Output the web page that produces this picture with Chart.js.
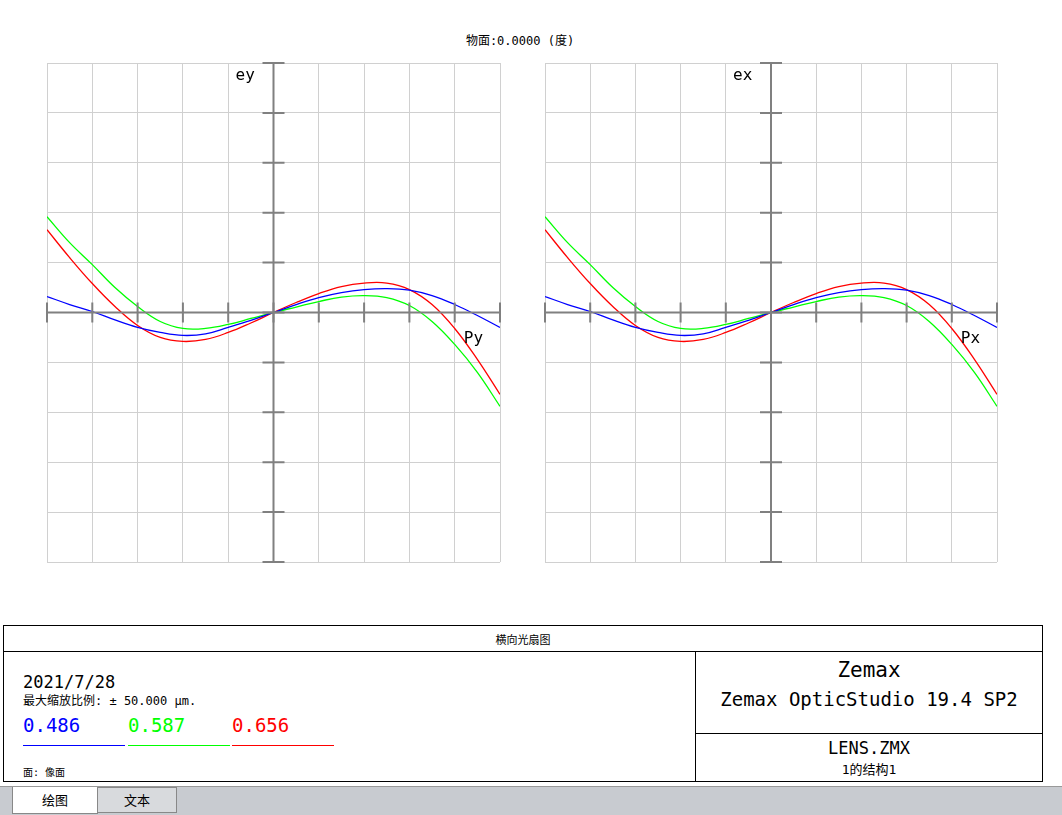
<!DOCTYPE html>
<html><head><meta charset="utf-8">
<script src="https://cdn.jsdelivr.net/npm/chart.js@4/dist/chart.umd.min.js"></script>
<style>
body{margin:0;width:1062px;height:815px;background:#fff;position:relative;overflow:hidden;font-family:"DejaVu Sans Mono","Noto Sans CJK SC",monospace;}
.c{position:absolute;}
#title{position:absolute;top:31px;left:0;width:1040px;text-align:center;font-size:12px;}
#box{position:absolute;left:3px;top:625px;width:1038px;height:155px;border:1px solid #000;}
.abs{position:absolute;}
</style></head><body>
<div id="title">物面:0.0000 (度)</div>
<div class="c" style="left:0;top:0;width:520px;height:600px"><canvas id="c1"></canvas></div>
<div class="c" style="left:498px;top:0;width:520px;height:600px"><canvas id="c2"></canvas></div>
<div id="box">
 <div class="abs" style="left:0;top:0;width:1038px;height:25px;border-bottom:1px solid #000;text-align:center;font-size:11px;line-height:26px;font-family:'Noto Sans CJK SC'">横向光扇图</div>
 <div class="abs" style="left:691px;top:26px;width:1px;height:129px;background:#000"></div>
 <div class="abs" style="left:692px;top:107px;width:346px;height:1px;background:#000"></div>
 <div class="abs" style="left:692px;top:32px;width:346px;text-align:center;font-size:21px">Zemax</div>
 <div class="abs" style="left:692px;top:62px;width:346px;text-align:center;font-size:19px">Zemax OpticStudio 19.4 SP2</div>
 <div class="abs" style="left:692px;top:112px;width:346px;text-align:center;font-size:17px">LENS.ZMX</div>
 <div class="abs" style="left:692px;top:133px;width:346px;text-align:center;font-size:13px">1的结构1</div>
 <div class="abs" style="left:19px;top:46px;font-size:17px">2021/7/28</div>
 <div class="abs" style="left:19px;top:65px;font-size:12px">最大缩放比例: ± 50.000 µm.</div>
 <div class="abs" style="left:19px;top:88px;font-size:19px;color:#0000ff">0.486</div>
 <div class="abs" style="left:124px;top:88px;font-size:19px;color:#00ff00">0.587</div>
 <div class="abs" style="left:228px;top:88px;font-size:19px;color:#ff0000">0.656</div>
 <div class="abs" style="left:19px;top:119px;width:102px;height:1px;background:#0000ff"></div>
 <div class="abs" style="left:124px;top:119px;width:102px;height:1px;background:#00ff00"></div>
 <div class="abs" style="left:228px;top:119px;width:102px;height:1px;background:#ff0000"></div>
 <div class="abs" style="left:19px;top:138px;font-size:10px">面: 像面</div>
</div>
<div class="abs" style="left:0;top:786px;width:1062px;height:29px;background:#c8cbd0;border-top:1px solid #999"></div>
<div class="abs" style="left:12px;top:787px;width:84px;height:26px;background:#fff;border:1px solid #888;border-top:none;text-align:center;font-size:13px;line-height:26px;font-family:'Noto Sans CJK SC'">绘图</div>
<div class="abs" style="left:97px;top:787px;width:78px;height:24px;background:#d8dadd;border:1px solid #888;text-align:center;font-size:13px;line-height:24px;font-family:'Noto Sans CJK SC'">文本</div>
<script>
const pupil=[-1,-0.9,-0.8,-0.7,-0.6,-0.5,-0.4,-0.3,-0.2,-0.1,0,0.1,0.2,0.3,0.4,0.5,0.6,0.7,0.8,0.9,1];
const blue=[3.2,1.6,0.2,-1.5,-3,-4,-4.6,-4.3,-3,-1.6,0,1.6,3,4,4.6,4.8,4.5,3.4,1.6,-0.6,-3];
const green=[19.2,14,9.6,5,1.2,-1.8,-3.2,-3.2,-2.4,-1.2,0,1.1,2.2,3.1,3.4,3,1.4,-1.8,-6.4,-12,-18.8];
const red=[16.6,11,5.8,1.2,-2.6,-5,-5.8,-5.4,-4,-2.1,0,2,3.8,5.2,5.9,5.9,4.6,1.6,-3.2,-9.4,-16.4];
const yTicks=[-50,-40,-30,-20,-10,0,10,20,30,40,50];
function mk(id,padL,padR,yl,xl){
 const axesPlug={id:'ax',afterDatasetsDraw(ch){
  const {ctx,scales:{x,y}}=ch;const x0=x.getPixelForValue(0),y0=y.getPixelForValue(0);
  ctx.save();ctx.strokeStyle='#808080';ctx.lineWidth=2;
  ctx.beginPath();ctx.moveTo(x0,y.top);ctx.lineTo(x0,y.bottom);ctx.moveTo(x.left,y0);ctx.lineTo(x.right,y0);ctx.stroke();
  ctx.beginPath();
  yTicks.forEach(v=>{const p=y.getPixelForValue(v);ctx.moveTo(x0-11,p);ctx.lineTo(x0+11,p);});
  for(let i=-5;i<=5;i++){const p=x.getPixelForValue(i/5);ctx.moveTo(p,y0-10);ctx.lineTo(p,y0+10);}
  ctx.stroke();
  ctx.fillStyle='#000';ctx.font='16px "DejaVu Sans Mono"';ctx.textBaseline='middle';
  ctx.fillText(yl,x0-38,y.getPixelForValue(47.5));
  ctx.fillText(xl,x.getPixelForValue(0.84),y.getPixelForValue(-5.3));
  ctx.restore();}};
 new Chart(document.getElementById(id),{type:'line',
  data:{labels:pupil,datasets:[
   {data:blue,borderColor:'#0000ff'},{data:green,borderColor:'#00ff00'},{data:red,borderColor:'#ff0000'}].map(d=>Object.assign(d,{borderWidth:1.3,pointRadius:0,tension:0.4}))},
  options:{responsive:false,animation:false,maintainAspectRatio:false,layout:{padding:{left:padL,right:padR,top:63,bottom:38}},
   plugins:{legend:{display:false},tooltip:{enabled:false}},
   scales:{x:{type:'linear',min:-1,max:1,ticks:{display:false,stepSize:0.2},border:{display:false},grid:{color:'#d0d0d0',drawTicks:false}},
    y:{min:-50,max:50,ticks:{display:false,stepSize:10},border:{display:false},grid:{color:'#d0d0d0',drawTicks:false}}}},
  plugins:[axesPlug]});
}
['c1','c2'].forEach(i=>{const c=document.getElementById(i);c.width=520;c.height=600;});
mk('c1',47,20,'ey','Py');
mk('c2',47,21,'ex','Px');
</script>
</body></html>
